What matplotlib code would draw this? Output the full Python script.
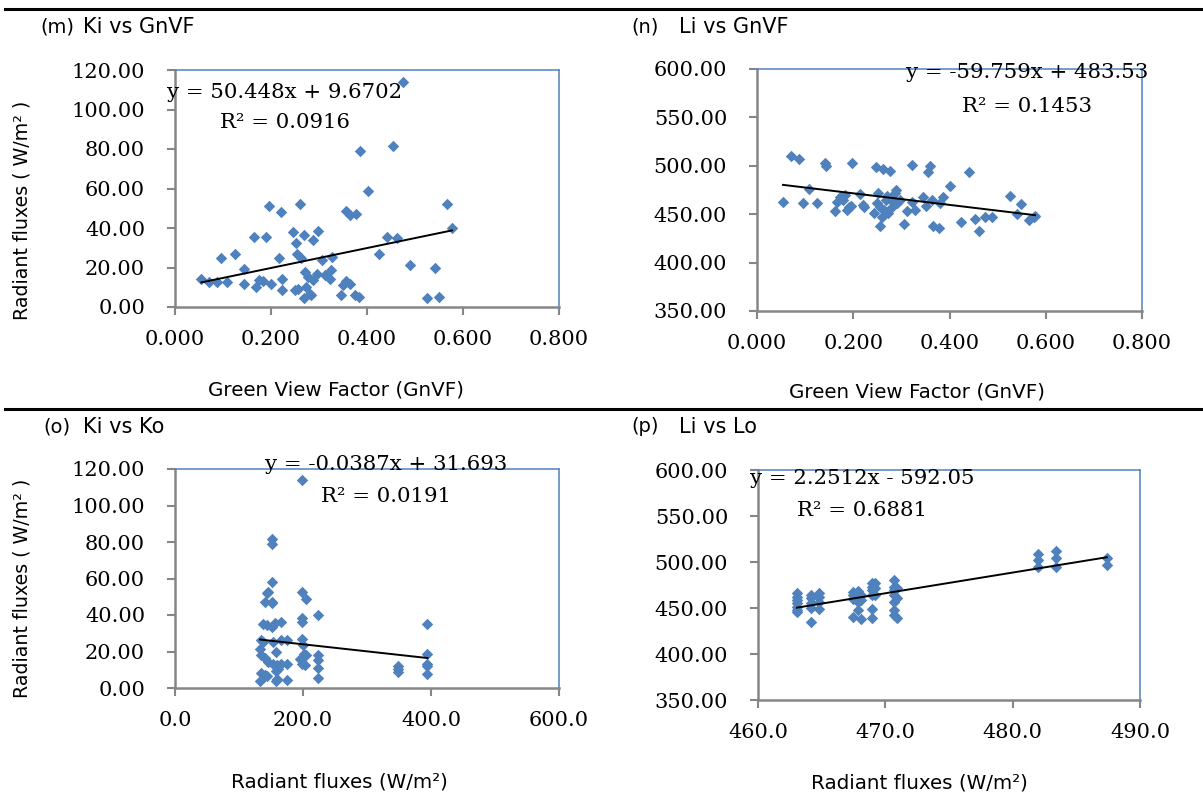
import numpy as np
import matplotlib.pyplot as plt
from matplotlib.ticker import FormatStrFormatter, MultipleLocator

W, H = 1203, 796

# ---------------- data ----------------
# (m) Ki vs GnVF
m_x = [0.055, 0.071, 0.088, 0.096, 0.108, 0.125, 0.144, 0.144, 0.164, 0.169, 0.176, 0.183,
       0.189, 0.196, 0.199, 0.217, 0.221, 0.223, 0.223, 0.246, 0.251, 0.253, 0.255, 0.260,
       0.262, 0.256, 0.268, 0.268, 0.271, 0.273, 0.278, 0.281, 0.283, 0.288, 0.288, 0.298,
       0.295, 0.306, 0.312, 0.323, 0.325, 0.328, 0.345, 0.350, 0.356, 0.357, 0.364, 0.364,
       0.376, 0.378, 0.384, 0.385, 0.402, 0.424, 0.442, 0.455, 0.463, 0.475, 0.489, 0.526,
       0.541, 0.550, 0.566, 0.577]
m_y = [14.4, 12.7, 12.7, 24.8, 12.5, 26.9, 19.4, 11.8, 35.5, 10.1, 13.5, 13.2,
       35.5, 51.2, 11.8, 25.0, 48.0, 14.4, 8.5, 37.9, 8.5, 32.4, 26.7, 52.1,
       25.0, 9.1, 36.3, 4.6, 17.7, 10.1, 15.2, 6.8, 5.9, 13.5, 33.8, 38.4,
       16.9, 24.0, 16.1, 14.4, 18.9, 25.4, 6.3, 11.0, 48.7, 13.0, 46.8, 11.5,
       6.3, 47.3, 5.1, 78.9, 58.5, 27.0, 35.2, 81.6, 35.0, 114.1, 21.3, 4.6,
       19.9, 4.9, 52.4, 40.1]
m_fit = (50.448, 9.6702)

# (n) Li vs GnVF
n_x = [0.054, 0.070, 0.087, 0.096, 0.108, 0.124, 0.142, 0.144, 0.163, 0.167, 0.172, 0.178,
       0.183, 0.186, 0.191, 0.196, 0.198, 0.215, 0.221, 0.223, 0.244, 0.248, 0.250, 0.252,
       0.255, 0.255, 0.259, 0.261, 0.264, 0.269, 0.271, 0.273, 0.276, 0.280, 0.283, 0.287,
       0.289, 0.291, 0.297, 0.306, 0.311, 0.323, 0.323, 0.328, 0.344, 0.351, 0.355, 0.359,
       0.363, 0.366, 0.379, 0.380, 0.386, 0.401, 0.424, 0.440, 0.454, 0.462, 0.474, 0.489,
       0.525, 0.540, 0.549, 0.565, 0.575, 0.578]
n_y = [462.9, 510.6, 507.5, 461.2, 475.7, 461.9, 502.6, 499.9, 453.6, 462.9, 467.4, 464.6,
       469.8, 454.3, 457.7, 458.4, 503.3, 470.5, 459.5, 457.0, 450.8, 499.2, 461.9, 471.5,
       437.7, 457.7, 447.4, 496.4, 454.3, 464.6, 468.8, 451.5, 495.0, 457.7, 462.9, 471.5,
       475.0, 461.2, 464.6, 439.8, 453.6, 500.6, 462.9, 454.3, 467.4, 458.4, 494.0, 499.9,
       464.6, 437.7, 436.0, 461.2, 467.4, 479.1, 441.5, 494.0, 445.0, 432.5, 446.7, 447.4,
       468.8, 449.8, 460.2, 443.6, 447.4, 448.1]
n_fit = (-59.759, 483.53)

# (o) Ki vs Ko
o_x = [198.8, 152.0, 152.0, 152.0, 143.0, 146.0, 140.5, 151.0, 152.0, 198.8, 204.5, 138.0,
       144.0, 151.0, 156.0, 165.0, 198.0, 198.0, 224.0, 394.5, 134.0, 138.0, 152.5, 165.5,
       175.4, 198.8, 200.5, 133.0, 157.7, 134.0, 140.5, 146.0, 152.5, 158.7, 165.5, 175.4,
       201.4, 204.5, 196.0, 199.0, 203.9, 224.0, 224.0, 224.0, 224.0, 134.0, 140.5, 144.0,
       157.7, 158.7, 161.0, 175.4, 133.0, 157.7, 348.6, 348.6, 348.6, 394.5, 394.5, 394.5,
       394.5]
o_y = [113.8, 81.7, 78.8, 58.3, 51.9, 52.8, 47.3, 47.3, 46.4, 52.4, 48.7, 34.8,
       34.4, 33.5, 35.4, 36.3, 38.5, 36.3, 39.8, 34.8, 26.2, 25.3, 25.3, 26.2,
       26.2, 26.6, 23.8, 21.3, 19.8, 18.0, 16.5, 14.3, 13.4, 12.5, 13.4, 13.4,
       18.9, 18.3, 16.1, 13.4, 12.5, 18.0, 15.2, 11.0, 5.5, 8.2, 7.0, 6.6,
       9.2, 5.1, 10.6, 4.2, 3.8, 3.8, 12.1, 10.6, 8.8, 18.9, 13.4, 11.9,
       7.9]
o_fit = (-0.0387, 31.693)

# (p) Li vs Lo
p_x = [463.06] * 7 + [464.19] * 5 + [464.76] * 4 + [467.45] * 4 + [467.85] * 4 + \
      [468.11] * 3 + [468.95] * 6 + [469.21] * 3 + [470.70] * 7 + [470.91] * 3 + \
      [482.02] * 3 + [483.41] * 3 + [487.39] * 2
p_y = [465.9, 462.3, 458.7, 455.1, 451.4, 447.8, 445.3,
       464.1, 460.5, 455.1, 449.6, 434.4,
       465.9, 462.3, 456.9, 448.9,
       467.8, 464.1, 459.8, 440.6,
       468.5, 462.3, 456.9, 447.8,
       464.1, 458.7, 437.7,
       476.8, 473.2, 469.6, 464.1, 448.9, 438.8,
       476.8, 472.1, 464.1,
       480.4, 473.2, 469.6, 464.1, 456.9, 447.8, 442.4,
       471.4, 460.5, 438.8,
       508.7, 502.2, 494.9,
       512.3, 504.0, 494.9,
       504.0, 496.7]
p_fit = (2.2512, -592.05)

panel_tags = ["(m)", "(n)", "(o)", "(p)"]
panel_titles = ["Ki vs GnVF", "Li vs GnVF", "Ki vs Ko", "Li vs Lo"]
equations = ["y = 50.448x + 9.6702", "y = -59.759x + 483.53",
             "y = -0.0387x + 31.693", "y = 2.2512x - 592.05"]
r2_texts = ["R² = 0.0916", "R² = 0.1453", "R² = 0.0191", "R² = 0.6881"]
xlabels = ["Green View Factor (GnVF)", "Green View Factor (GnVF)",
           "Radiant fluxes (W/m²)", "Radiant fluxes (W/m²)"]
ylabel_text = "Radiant fluxes ( W/m² )"

# ---------------- layout (pixel boxes: left, top, right, bottom) ----------------
boxes = [(175, 70, 559, 307), (757, 69, 1142, 311),
         (175, 469, 559, 688), (758, 470, 1140, 700)]
xlims = [(0, 0.8), (0, 0.8), (0, 600), (460, 490)]
xsteps = [0.2, 0.2, 200, 10]
xfmts = ["%.3f", "%.3f", "%.1f", "%.1f"]
ylims = [(0, 120), (350, 600), (0, 120), (350, 600)]
ysteps = [20, 50, 20, 50]

tag_pos = [(57, 27), (645, 27), (57, 427), (645, 427)]
title_pos = [(83, 27), (679, 27), (83, 427), (679, 427)]
eq_pos = [(285, 92, 122), (1027, 73, 106), (386, 465, 496), (862, 478, 510)]
xlab_pos = [(336, 390), (917, 392), (339, 782), (919, 783)]
ylab_pos = [(22, 210), (22, 588)]

BLUE = "#4F81BD"
GRAY = "#868686"

def fx(x):
    return x / W

def fy(y):
    return 1 - y / H

fig = plt.figure(figsize=(W / 100, H / 100), dpi=100)

datasets = [(m_x, m_y, m_fit), (n_x, n_y, n_fit), (o_x, o_y, o_fit), (p_x, p_y, p_fit)]

for i, (xs, ys, fit) in enumerate(datasets):
    l, t, r, b = boxes[i]
    ax = fig.add_axes([fx(l), fy(b), (r - l) / W, (b - t) / H])
    ax.scatter(xs, ys, marker="D", s=34, color=BLUE, linewidths=0, zorder=3, clip_on=False)
    xa = np.array([min(xs), max(xs)])
    ax.plot(xa, fit[0] * xa + fit[1], color="black", lw=1.4, zorder=4)
    ax.set_xlim(*xlims[i])
    ax.set_ylim(*ylims[i])
    ax.xaxis.set_major_locator(MultipleLocator(xsteps[i]))
    ax.yaxis.set_major_locator(MultipleLocator(ysteps[i]))
    ax.xaxis.set_major_formatter(FormatStrFormatter(xfmts[i]))
    ax.yaxis.set_major_formatter(FormatStrFormatter("%.2f"))
    for side in ("top", "right"):
        ax.spines[side].set_color(BLUE)
        ax.spines[side].set_linewidth(1.1)
    for side in ("left", "bottom"):
        ax.spines[side].set_color(GRAY)
        ax.spines[side].set_linewidth(1.8)
    ax.tick_params(axis="both", direction="out", length=5.5, width=1.5, color=GRAY)
    ax.tick_params(axis="y", pad=16)
    ax.tick_params(axis="x", pad=11)
    for lab in ax.get_xticklabels() + ax.get_yticklabels():
        lab.set_fontfamily("DejaVu Serif")
        lab.set_fontsize(15)
        lab.set_color("black")

    # texts
    fig.text(fx(tag_pos[i][0]), fy(tag_pos[i][1]), panel_tags[i], ha="center", va="center",
             fontsize=14, family="DejaVu Sans")
    fig.text(fx(title_pos[i][0]), fy(title_pos[i][1]), panel_titles[i], ha="left", va="center",
             fontsize=15, family="DejaVu Sans")
    ex, ey1, ey2 = eq_pos[i]
    fig.text(fx(ex), fy(ey1), equations[i], ha="center", va="center",
             fontsize=15.3, family="DejaVu Serif")
    fig.text(fx(ex), fy(ey2), r2_texts[i], ha="center", va="center",
             fontsize=15.3, family="DejaVu Serif")
    fig.text(fx(xlab_pos[i][0]), fy(xlab_pos[i][1]), xlabels[i], ha="center", va="center",
             fontsize=14.3, family="DejaVu Sans")

for (yx, yy) in ylab_pos:
    fig.text(fx(yx), fy(yy), ylabel_text, rotation=90, ha="center", va="center",
             fontsize=13.7, family="DejaVu Sans")

# separator lines
for ly in (9, 409):
    fig.add_artist(plt.Line2D([fx(5), 1.0], [fy(ly), fy(ly)], color="black", lw=2.2,
                              transform=fig.transFigure))

fig.savefig("out.png", dpi=100)
